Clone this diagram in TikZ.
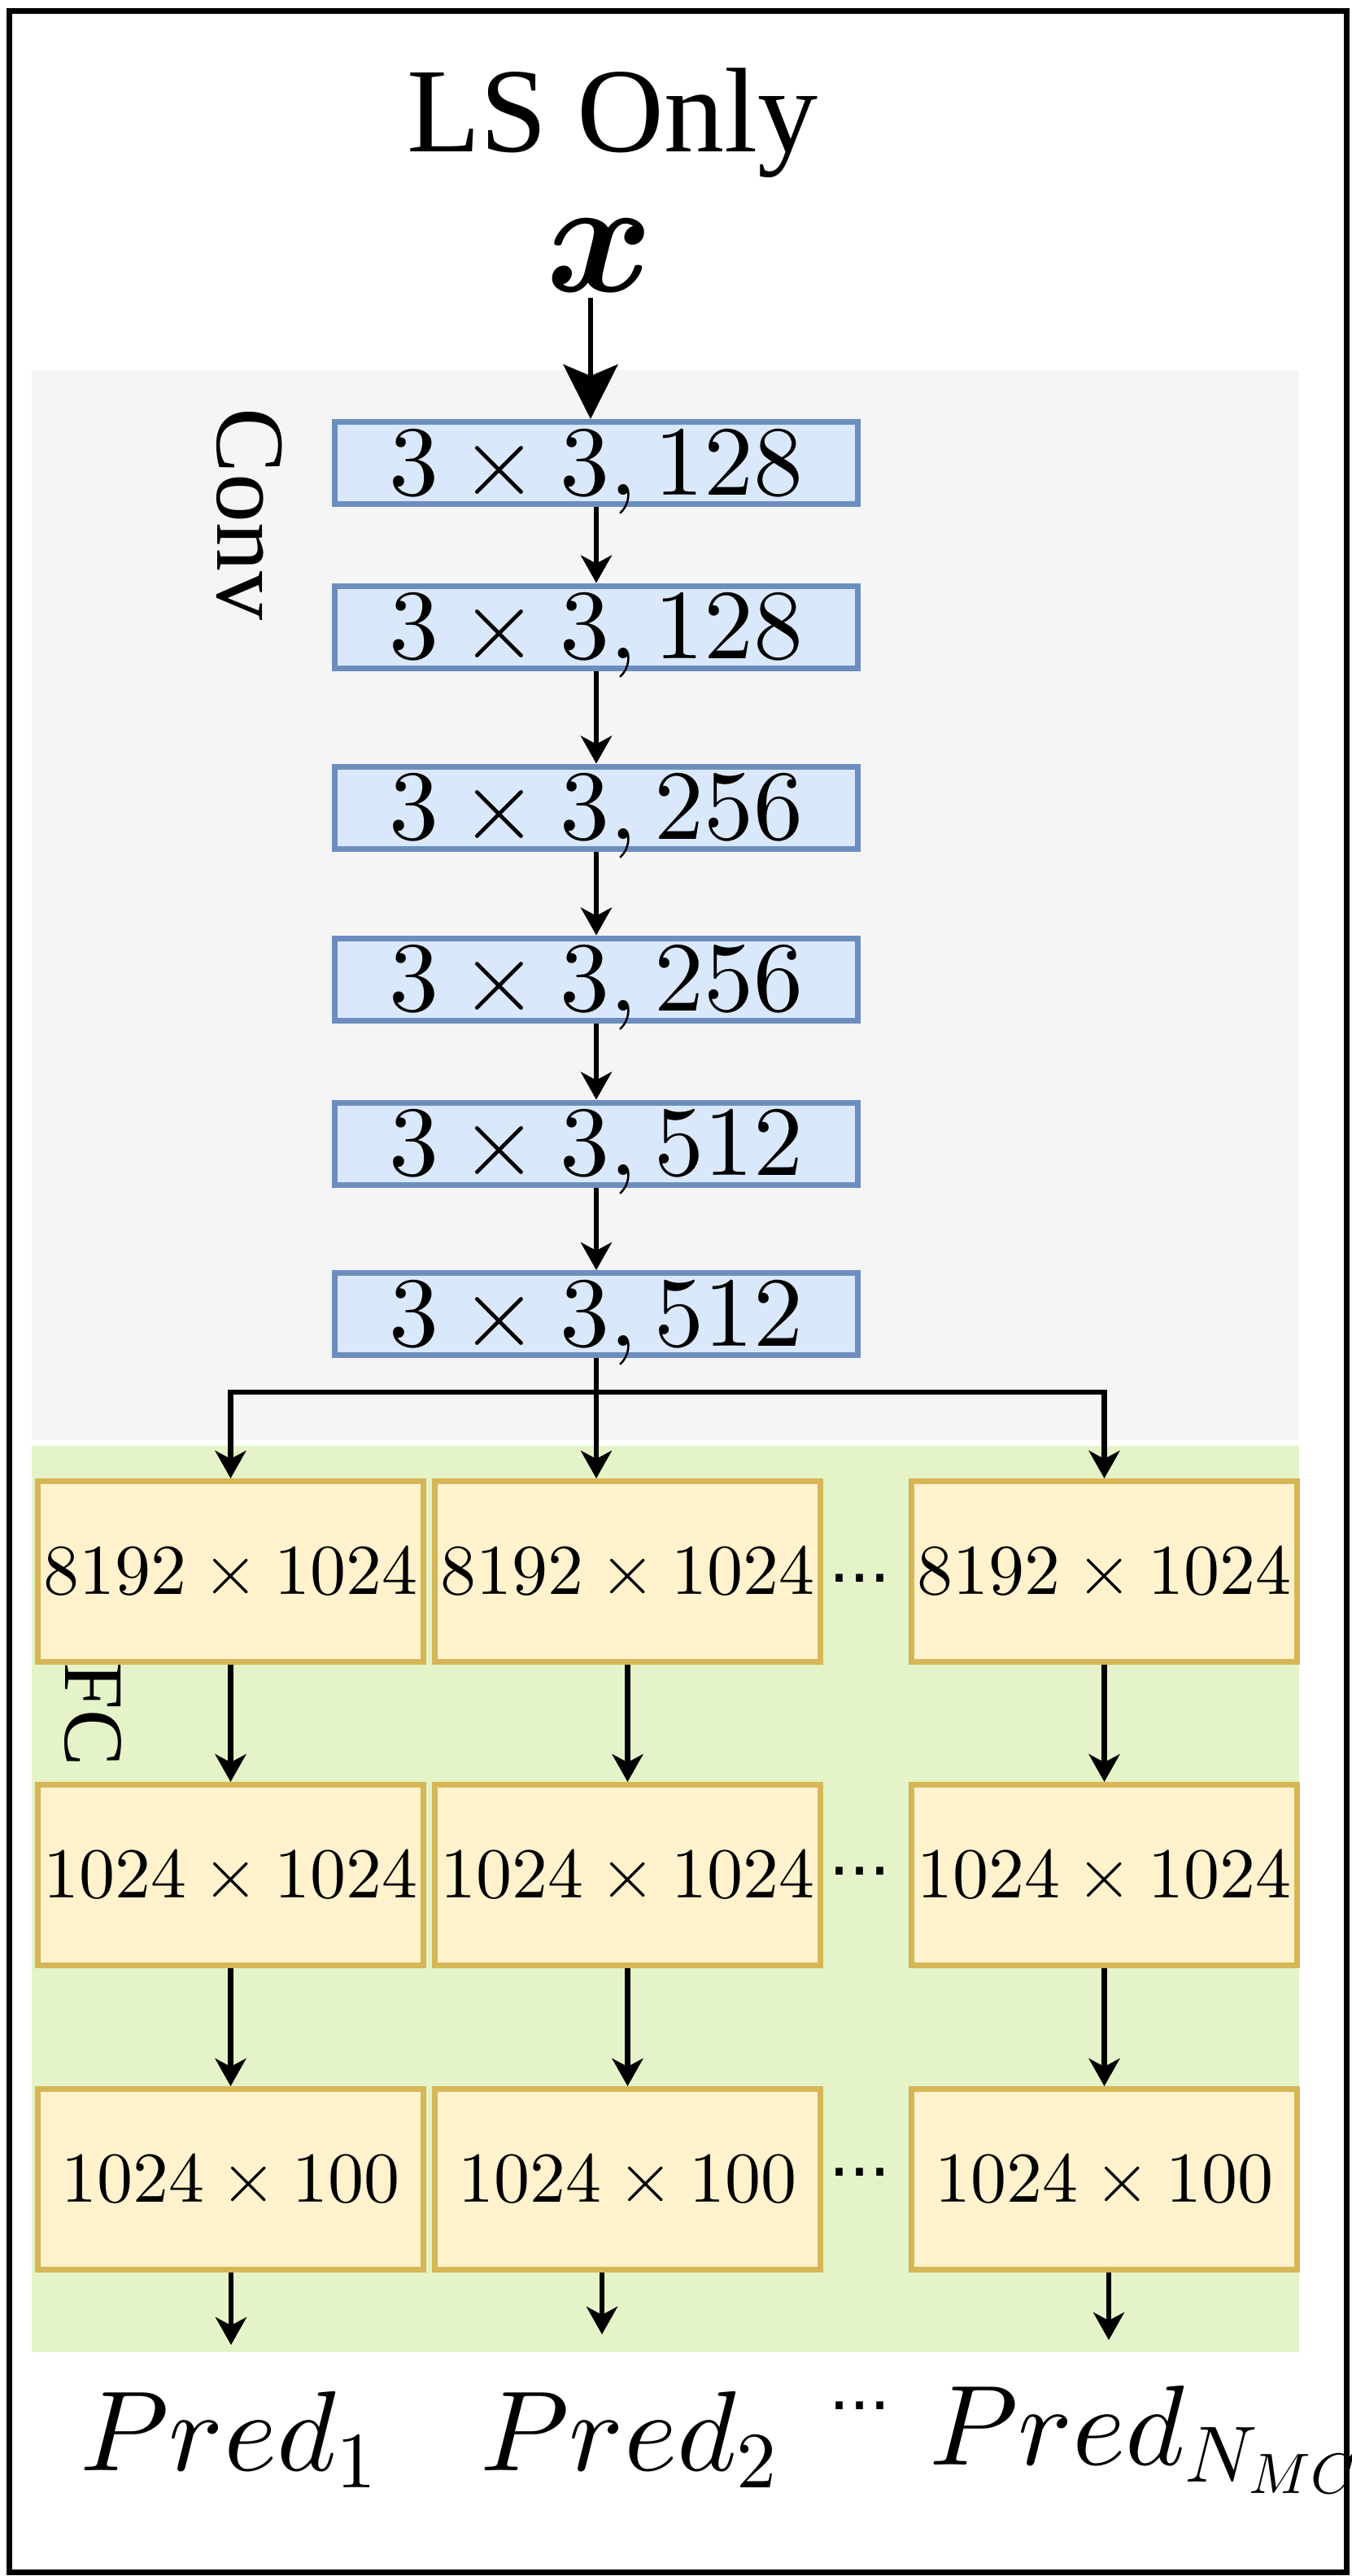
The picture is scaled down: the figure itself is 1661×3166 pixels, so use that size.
\documentclass[tikz,border=0pt]{standalone}
\usepackage{amsmath}
\usepackage[no-math]{fontspec}
\DeclareFontShape{OT1}{cmr}{m}{n}{<->cmr10}{}
\DeclareFontShape{OML}{cmm}{m}{it}{<->cmmi10}{}
\DeclareFontShape{OML}{cmm}{b}{it}{<->cmmib10}{}
\DeclareFontShape{OMS}{cmsy}{m}{n}{<->cmsy10}{}
\DeclareFontShape{OMS}{cmsy}{b}{n}{<->cmbsy10}{}
\DeclareFontShape{OT1}{cmr}{bx}{n}{<->cmbx10}{}
\newfontfamily\timesf{Liberation Serif}
\newfontfamily\arialf{Liberation Sans}
\usetikzlibrary{arrows.meta}
\definecolor{grayreg}{HTML}{F5F5F5}
\definecolor{greenreg}{HTML}{E4F4C8}
\definecolor{convfill}{HTML}{DAE8FC}
\definecolor{convdraw}{HTML}{6C8EBF}
\definecolor{fcfill}{HTML}{FFF2CC}
\definecolor{fcdraw}{HTML}{D6B656}
\begin{document}
\begin{tikzpicture}[x=0.5pt,y=-0.5pt,
  convbox/.style={draw=convdraw, fill=convfill, line width=3.5pt, minimum width=321.5pt, minimum height=50.5pt, inner sep=0pt, font=\fontsize{61}{70}\selectfont, text height=39.3pt, text depth=0pt},
  fcbox/.style={draw=fcdraw, fill=fcfill, line width=3.5pt, minimum width=237pt, minimum height=111pt, inner sep=0pt, font=\fontsize{44}{50}\selectfont, text height=28.35pt, text depth=0pt},
  arr/.style={line width=3.2pt, -{Stealth[length=17pt,width=19pt,inset=5pt]}},
  bigarr/.style={line width=3.2pt, -{Stealth[length=33.5pt,width=33.5pt,inset=7pt]}},
  plainline/.style={line width=3.2pt},
  dotsl/.style={font=\arialf\fontsize{45}{50}\selectfont, inner sep=0pt, anchor=base},
  predl/.style={font=\fontsize{70}{80}\selectfont, inner sep=0pt},
  sidel/.style={inner sep=0pt, rotate=-90}
]
\fill[white] (0,0) rectangle (1661,3166);
\useasboundingbox (0,0) rectangle (1661,3166);

% regions
\fill[grayreg] (39,455) rectangle (1597,1770);
\fill[greenreg] (39,1777) rectangle (1597,2891);

% title and input
\node[font=\timesf\fontsize{74}{80}\selectfont, inner sep=0pt, anchor=base] (title) at (753,186) {LS Only};
\node[font=\fontsize{100}{110}\selectfont, inner sep=0pt, anchor=base] (xn) at (737,358) {$\boldsymbol{x}$};

% side labels
\node[sidel, font=\timesf\fontsize{60}{66}\selectfont] (convl) at (307,632) {Conv};
\node[sidel, font=\timesf\fontsize{52}{58}\selectfont] (fcl) at (114,2107) {FC};

% conv boxes
\node[convbox] (c1) at (733,569) {$3\times3,128$};
\node[convbox] (c2) at (733,770.5) {$3\times3,128$};
\node[convbox] (c3) at (733,992.5) {$3\times3,256$};
\node[convbox] (c4) at (733,1203.5) {$3\times3,256$};
\node[convbox] (c5) at (733,1405.5) {$3\times3,512$};
\node[convbox] (c6) at (733,1615) {$3\times3,512$};

% FC boxes
\node[fcbox] (f11) at (283.5,1931.5) {$8192\times1024$};
\node[fcbox] (f12) at (771.5,1931.5) {$8192\times1024$};
\node[fcbox] (f13) at (1357.5,1931.5) {$8192\times1024$};
\node[fcbox] (f21) at (283.5,2304.5) {$1024\times1024$};
\node[fcbox] (f22) at (771.5,2304.5) {$1024\times1024$};
\node[fcbox] (f23) at (1357.5,2304.5) {$1024\times1024$};
\node[fcbox] (f31) at (283.5,2678.5) {$1024\times100$};
\node[fcbox] (f32) at (771.5,2678.5) {$1024\times100$};
\node[fcbox] (f33) at (1357.5,2678.5) {$1024\times100$};

% dots
\node[dotsl] (d1) at (1057,1944) {...};
\node[dotsl] (d2) at (1057,2304) {...};
\node[dotsl] (d3) at (1057,2674) {...};
\node[dotsl] (d4) at (1057,2961) {...};

% outputs
\node[predl, anchor=base] (p1) at (281,3036) {$Pred_1$};
\node[predl, anchor=base] (p2) at (773,3036) {$Pred_2$};
\node[predl, anchor=base west] (p3) at (1142,3029) {$Pred_{N_{MC}}$};

% connectors
\coordinate (xa) at ([xshift=-5.5pt,yshift=-4pt]xn.base);
\draw[bigarr] (xa) -- (xa |- c1.north);
\draw[arr] (c1.south) -- (c2.north);
\draw[arr] (c2.south) -- (c3.north);
\draw[arr] (c3.south) -- (c4.north);
\draw[arr] (c4.south) -- (c5.north);
\draw[arr] (c5.south) -- (c6.north);

\coordinate (split) at (c6.south |- 0,1711);
\draw[plainline] (c6.south) -- (split);
\draw[arr] (split) -| (f11.north);
\draw[arr] (split) -| (f13.north);
\draw[arr] (split) -- (split |- f12.north);

\draw[arr] (f11.south) -- (f21.north);
\draw[arr] (f12.south) -- (f22.north);
\draw[arr] (f13.south) -- (f23.north);
\draw[arr] (f21.south) -- (f31.north);
\draw[arr] (f22.south) -- (f32.north);
\draw[arr] (f23.south) -- (f33.north);

\coordinate (o1) at (284,2882);
\coordinate (o2) at (740,2869);
\coordinate (o3) at (1363,2876);
\draw[arr] (o1 |- f31.south) -- (o1);
\draw[arr] (o2 |- f32.south) -- (o2);
\draw[arr] (o3 |- f33.south) -- (o3);

% frame
\draw[line width=3.5pt] (11.5,13) rectangle (1655.5,3161.5);
\end{tikzpicture}
\end{document}
